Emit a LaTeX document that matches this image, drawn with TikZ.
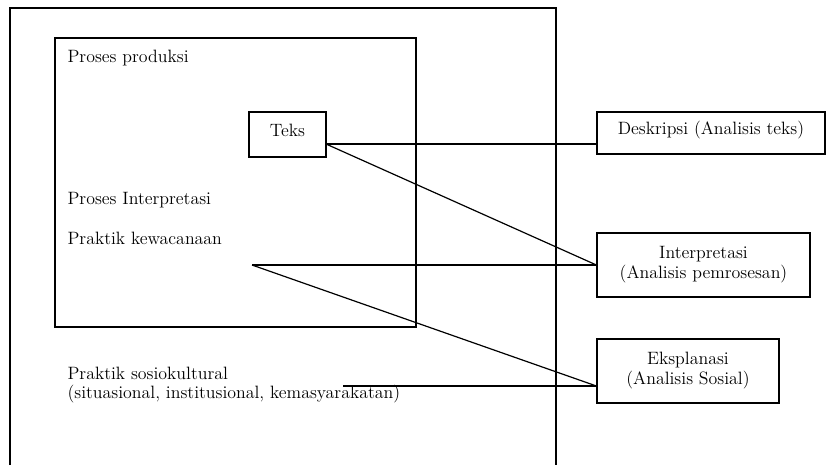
\documentclass[tikz,border=0pt]{standalone}
\tikzset{every picture/.style={line width=0.9pt}}
\tikzset{
  lbl/.style={anchor=base west, inner sep=0pt, font=\fontsize{13.4}{15}\selectfont},
  box/.style={draw, align=center, inner sep=0pt, font=\fontsize{13.4}{15}\selectfont},
}
\begin{document}
\begin{tikzpicture}[x=0.75pt,y=0.75pt,yscale=-1,xscale=1]
\useasboundingbox (0,0) rectangle (826,465);

%Outer frame, open at the bottom
\draw (10,465) -- (10,8) -- (556,8) -- (556,465);
%Inner frame
\draw (55,38) rectangle (416,327);

% Text Node
\node [lbl] (prod) at (67,62) {Proses produksi};
% Text Node
\node [lbl] (intp) at (67,204) {Proses Interpretasi};
% Text Node
\node [lbl] (kew) at (67,244) {Praktik kewacanaan};
% Text Node
\node [lbl, align=left, font=\fontsize{13.4}{14.25}\selectfont] (sos) at (67,398) {Praktik sosiokultural\\(situasional, institusional, kemasyarakatan)};

%Boxes
\node [box, minimum width=57.75pt, minimum height=33.75pt, text depth=7pt] (teks) at (287.5,134.5) {Teks};
\node [box, minimum width=171pt, minimum height=31.5pt, text depth=8.5pt] (desk) at (711,133) {Deskripsi (Analisis teks)};
\node [box, minimum width=159.75pt, minimum height=48pt] (interp) at (703.5,265) {Interpretasi\\(Analisis pemrosesan)};
\node [box, minimum width=136.5pt, minimum height=48pt] (eks) at (688,371) {Eksplanasi\\(Analisis Sosial)};

%Connectors
\coordinate (tk) at (326,144);
\coordinate (pk) at (252,265);
\coordinate (ps) at (343,386);
\draw (tk) -- (tk -| desk.west);
\draw (tk) -- (interp.west);
\draw (pk) -- (interp.west);
\draw (pk) -- (ps -| eks.west);
\draw (ps) -- (ps -| eks.west);

\end{tikzpicture}
\end{document}
